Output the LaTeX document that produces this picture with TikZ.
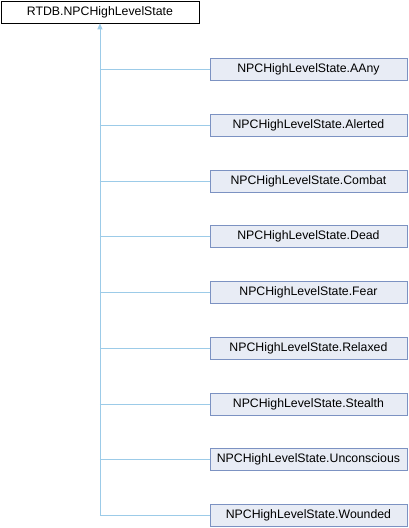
\documentclass[tikz,border=0pt]{standalone}
\usepackage{fontspec}
\setmainfont{Liberation Sans}
\usetikzlibrary{arrows.meta}
\definecolor{edgeblue}{HTML}{9CCBE8}
\definecolor{boxfill}{HTML}{E8ECF5}
\definecolor{boxline}{HTML}{7C92C2}
\tikzset{
  rootbox/.style={draw=black, fill=white, line width=0.9pt, minimum width=198pt, minimum height=22pt, inner sep=0pt, font=\fontsize{12.3}{14}\selectfont, anchor=north west},
  childbox/.style={draw=boxline, fill=boxfill, line width=0.9pt, minimum width=197pt, minimum height=22pt, inner sep=0pt, font=\fontsize{12.3}{14}\selectfont, anchor=west},
  conn/.style={draw=edgeblue, line width=0.9pt},
}
\begin{document}
\begin{tikzpicture}[x=1pt,y=-1pt]
\useasboundingbox (0,0) rectangle (408,528);
\node[rootbox] (root) at (0.5,0.5) {RTDB.NPCHighLevelState};
\foreach \n/\t [count=\i from 0] in {aany/AAny, alerted/Alerted, combat/Combat, dead/Dead, fear/Fear, relaxed/Relaxed, stealth/Stealth, unconscious/Unconscious, wounded/Wounded}{
  \node[childbox] (\n) at (209.5, 69.5+55.75*\i) {NPCHighLevelState.\t};
  \coordinate (j\n) at (root.south |- \n.west);
  \draw[conn] (j\n) -- (\n.west);
}
\draw[conn, -{Triangle[open, fill=edgeblue, length=6pt, width=5pt]}] (jwounded) -- (root.south);
\end{tikzpicture}
\end{document}
